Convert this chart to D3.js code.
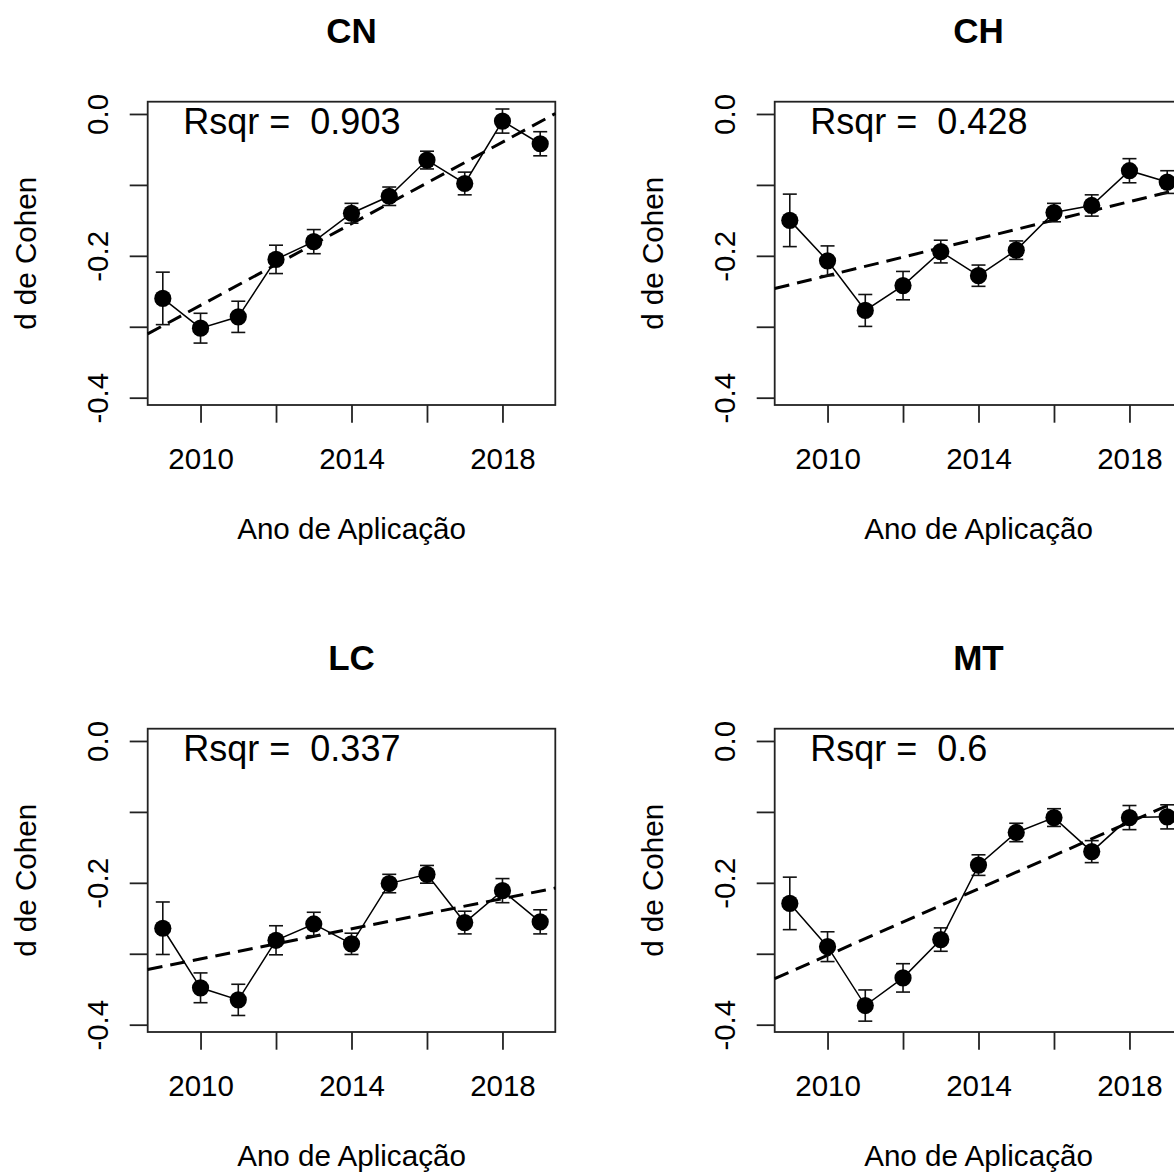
<!DOCTYPE html>
<html>
<head>
<meta charset="utf-8">
<script src="https://cdn.jsdelivr.net/npm/d3@7"></script>
<style>
  html, body { margin: 0; padding: 0; background: #fff; }
  svg text { font-family: "Liberation Sans", Arial, Helvetica, sans-serif; fill: #000; }
</style>
</head>
<body>
<div id="chart"></div>
<script>
// values
const years = [2009, 2010, 2011, 2012, 2013, 2014, 2015, 2016, 2017, 2018, 2019];
const panelNames = ['CN', 'CH', 'LC', 'MT'];

const cnMean = [-0.260, -0.302, -0.286, -0.205, -0.180, -0.140, -0.116, -0.065, -0.098, -0.010, -0.042];
const chMean = [-0.150, -0.207, -0.277, -0.242, -0.194, -0.228, -0.192, -0.139, -0.129, -0.080, -0.096];
const lcMean = [-0.264, -0.348, -0.365, -0.281, -0.258, -0.286, -0.201, -0.188, -0.256, -0.211, -0.255];
const mtMean = [-0.229, -0.290, -0.373, -0.334, -0.280, -0.175, -0.129, -0.108, -0.156, -0.108, -0.107];

// half width of the error bars
const cnErr = [0.037, 0.021, 0.022, 0.020, 0.017, 0.014, 0.013, 0.0125, 0.016, 0.017, 0.017];
const chErr = [0.037, 0.021, 0.0225, 0.020, 0.016, 0.015, 0.013, 0.013, 0.015, 0.017, 0.016];
const lcErr = [0.037, 0.021, 0.022, 0.0205, 0.0165, 0.015, 0.013, 0.0125, 0.016, 0.017, 0.017];
const mtErr = [0.037, 0.021, 0.022, 0.020, 0.0165, 0.0145, 0.013, 0.0125, 0.0155, 0.017, 0.017];

// fitted trend (dashed) at 2009 and at 2019
const fitAt2009 = [-0.2986, -0.2409, -0.3179, -0.3256];
const fitAt2019 = [-0.0109, -0.1106, -0.2116, -0.0912];
const rsqr = ['0.903', '0.428', '0.337', '0.6'];

const xTicks = [2010, 2012, 2014, 2016, 2018];
const xTickLabels = [2010, 2014, 2018];
const yTicks = [0, -0.1, -0.2, -0.3, -0.4];
const yTickLabels = ['0.0', '-0.2', '-0.4'];

const means = [cnMean, chMean, lcMean, mtMean];
const errs = [cnErr, chErr, lcErr, mtErr];

const W = 1174, H = 1172;
const cell = 627;
const box = { left: 147.7, right: 555.3, top: 101.7, bottom: 405 };

const svg = d3.select('#chart')
  .append('svg')
  .attr('width', W)
  .attr('height', H);

const x = d3.scaleLinear().domain([2008.6, 2019.4]).range([box.left, box.right]);
const y = d3.scaleLinear().domain([-0.4103, 0.0173]).range([box.bottom, box.top]);

panelNames.forEach((name, i) => {
  const g = svg.append('g')
    .attr('transform', `translate(${(i % 2) * cell},${Math.floor(i / 2) * cell})`);

  const mean = means[i];
  const err = errs[i];
  const pts = years.map((yr, j) => ({ yr, v: mean[j], e: err[j] }));

  // title
  g.append('text')
    .attr('x', (box.left + box.right) / 2)
    .attr('y', 42.7)
    .attr('text-anchor', 'middle')
    .style('font-size', '35px')
    .style('font-weight', 'bold')
    .text(name);

  // x axis
  const xAxis = g.append('g')
    .attr('transform', `translate(0,${box.bottom})`)
    .call(d3.axisBottom(x)
      .tickValues(xTicks)
      .tickSize(17.7)
      .tickSizeOuter(0)
      .tickFormat(d => xTickLabels.includes(d) ? String(d) : ''));
  xAxis.select('.domain').remove();
  xAxis.selectAll('line').attr('stroke', '#222').attr('stroke-width', 1.8);
  xAxis.selectAll('text')
    .attr('y', 64)
    .attr('dy', null)
    .style('font-size', '29.5px')
    .style('font-family', '"Liberation Sans", Arial, sans-serif')
    .attr('fill', '#000');

  // y axis, labels parallel to the axis
  const yAxis = g.append('g')
    .attr('transform', `translate(${box.left},0)`)
    .call(d3.axisLeft(y)
      .tickValues(yTicks)
      .tickSize(18)
      .tickSizeOuter(0)
      .tickFormat(d => {
        const s = d3.format('.1f')(d).replace('−', '-');
        return yTickLabels.includes(s) ? s : '';
      }));
  yAxis.select('.domain').remove();
  yAxis.selectAll('line').attr('stroke', '#222').attr('stroke-width', 1.8);
  yAxis.selectAll('text')
    .attr('x', null)
    .attr('dy', null)
    .attr('text-anchor', 'middle')
    .attr('transform', 'translate(-39.7,0) rotate(-90)')
    .style('font-size', '29.5px')
    .style('font-family', '"Liberation Sans", Arial, sans-serif')
    .attr('fill', '#000');

  // axis titles
  g.append('text')
    .attr('x', (box.left + box.right) / 2)
    .attr('y', 539)
    .attr('text-anchor', 'middle')
    .style('font-size', '29.6px')
    .text('Ano de Aplicação');

  g.append('text')
    .attr('transform', `translate(36,${(box.top + box.bottom) / 2}) rotate(-90)`)
    .attr('text-anchor', 'middle')
    .style('font-size', '29.6px')
    .text('d de Cohen');

  // plot box
  g.append('rect')
    .attr('x', box.left)
    .attr('y', box.top)
    .attr('width', box.right - box.left)
    .attr('height', box.bottom - box.top)
    .attr('fill', 'none')
    .attr('stroke', '#222')
    .attr('stroke-width', 1.8);

  // trend line, clipped to the box
  const f0 = fitAt2009[i], f1 = fitAt2019[i];
  const fit = yr => f0 + (f1 - f0) * (yr - 2009) / 10;
  const [xa, xb] = x.domain();
  g.append('line')
    .attr('x1', x(xa)).attr('y1', y(fit(xa)))
    .attr('x2', x(xb)).attr('y2', y(fit(xb)))
    .attr('stroke', '#000')
    .attr('stroke-width', 3)
    .attr('stroke-dasharray', '15,8');

  // error bars
  const bars = g.append('g').attr('stroke', '#111').attr('stroke-width', 1.6);
  bars.selectAll('line.v')
    .data(pts)
    .enter()
    .append('line')
    .attr('class', 'v')
    .attr('x1', d => x(d.yr)).attr('x2', d => x(d.yr))
    .attr('y1', d => y(d.v + d.e)).attr('y2', d => y(d.v - d.e));
  ['top', 'bot'].forEach(side => {
    bars.selectAll('line.' + side)
      .data(pts)
      .enter()
      .append('line')
      .attr('class', side)
      .attr('x1', d => x(d.yr) - 7).attr('x2', d => x(d.yr) + 7)
      .attr('y1', d => y(side === 'top' ? d.v + d.e : d.v - d.e))
      .attr('y2', d => y(side === 'top' ? d.v + d.e : d.v - d.e));
  });

  // connecting line and points
  g.append('path')
    .datum(pts)
    .attr('fill', 'none')
    .attr('stroke', '#000')
    .attr('stroke-width', 1.5)
    .attr('d', d3.line().x(d => x(d.yr)).y(d => y(d.v)));

  g.selectAll('circle')
    .data(pts)
    .enter()
    .append('circle')
    .attr('cx', d => x(d.yr))
    .attr('cy', d => y(d.v))
    .attr('r', 8.6)
    .attr('fill', '#000');

  // r squared
  g.append('text')
    .attr('x', box.left + 35.6)
    .attr('y', box.top + 32.3)
    .attr('xml:space', 'preserve')
    .style('white-space', 'pre')
    .style('font-size', '36px')
    .text('Rsqr =  ' + rsqr[i]);
});
</script>
</body>
</html>
